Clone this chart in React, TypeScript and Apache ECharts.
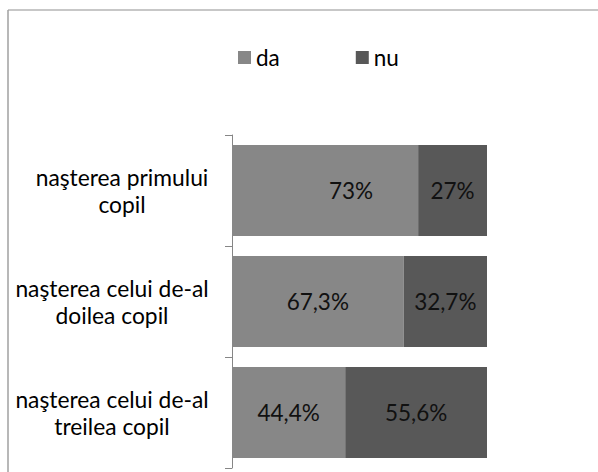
import React, { useEffect, useRef } from "react";
import * as echarts from "echarts";

const categories = [
  "naşterea primului\ncopil",
  "naşterea celui de-al\ndoilea copil",
  "naşterea celui de-al\ntreilea copil",
];
const seriesNames = ["da", "nu"];
const daValues = [73, 67.3, 44.4];
const nuValues = [27, 32.7, 55.6];

const FONT = "Lato, 'Noto Sans', sans-serif";
const FS = 22.8;

export default function App() {
  const ref = useRef<HTMLDivElement>(null);

  useEffect(() => {
    document.body.style.margin = "0";
    if (!ref.current) return;
    const chart = echarts.init(ref.current, undefined, { renderer: "svg" });
    const fmt = (p: any) => String(p.value).replace(".", ",") + "%";
    chart.setOption({
      animation: false,
      textStyle: { fontFamily: FONT },
      graphic: [
        { type: "line", shape: { x1: 8, y1: 10, x2: 598, y2: 10 }, style: { stroke: "#b4b4b4", lineWidth: 1.5 } },
        { type: "line", shape: { x1: 8, y1: 10, x2: 8, y2: 472 }, style: { stroke: "#a0a0a0", lineWidth: 1.5 } },
      ],
      legend: {
        left: 238,
        top: 46,
        padding: 0,
        itemWidth: 13,
        itemHeight: 13,
        itemGap: 76,
        icon: "rect",
        textStyle: { fontSize: 22.5, color: "#000", fontFamily: FONT },
        data: seriesNames,
      },
      grid: {
        left: 232,
        right: 111,
        top: 135,
        bottom: 4,
        containLabel: false,
        outerBoundsMode: "none",
      },
      xAxis: {
        type: "value",
        min: 0,
        max: 100,
        show: false,
      },
      yAxis: {
        type: "category",
        inverse: true,
        data: categories.map((c, i) =>
          i === 0
            ? {
                value: c,
                textStyle: {
                  align: "center",
                  padding: [0, 0, 0, 20],
                  fontSize: FS,
                  fontFamily: FONT,
                  lineHeight: 27,
                  color: "#000",
                },
              }
            : c
        ),
        axisLine: { show: true, lineStyle: { color: "#868686", width: 1 } },
        axisTick: { show: true, length: 7, lineStyle: { color: "#868686" } },
        axisLabel: {
          margin: 120,
          align: "center",
          color: "#000",
          fontSize: FS,
          fontFamily: FONT,
          lineHeight: 27,
        },
      },
      series: [
        {
          name: seriesNames[0],
          type: "bar",
          stack: "total",
          barWidth: 91,
          itemStyle: { color: "#878787" },
          label: { show: true, position: "inside", formatter: fmt, fontSize: 22.5, color: "#111", fontFamily: FONT },
          data: daValues.map((v, i) => (i === 0 ? { value: v, label: { offset: [26, 0] } } : v)),
        },
        {
          name: seriesNames[1],
          type: "bar",
          stack: "total",
          barWidth: 91,
          itemStyle: { color: "#585858" },
          label: { show: true, position: "inside", formatter: fmt, fontSize: 22.5, color: "#111", fontFamily: FONT },
          data: nuValues,
        },
      ],
    });
    return () => chart.dispose();
  }, []);

  return <div ref={ref} style={{ width: 598, height: 472 }} />;
}
